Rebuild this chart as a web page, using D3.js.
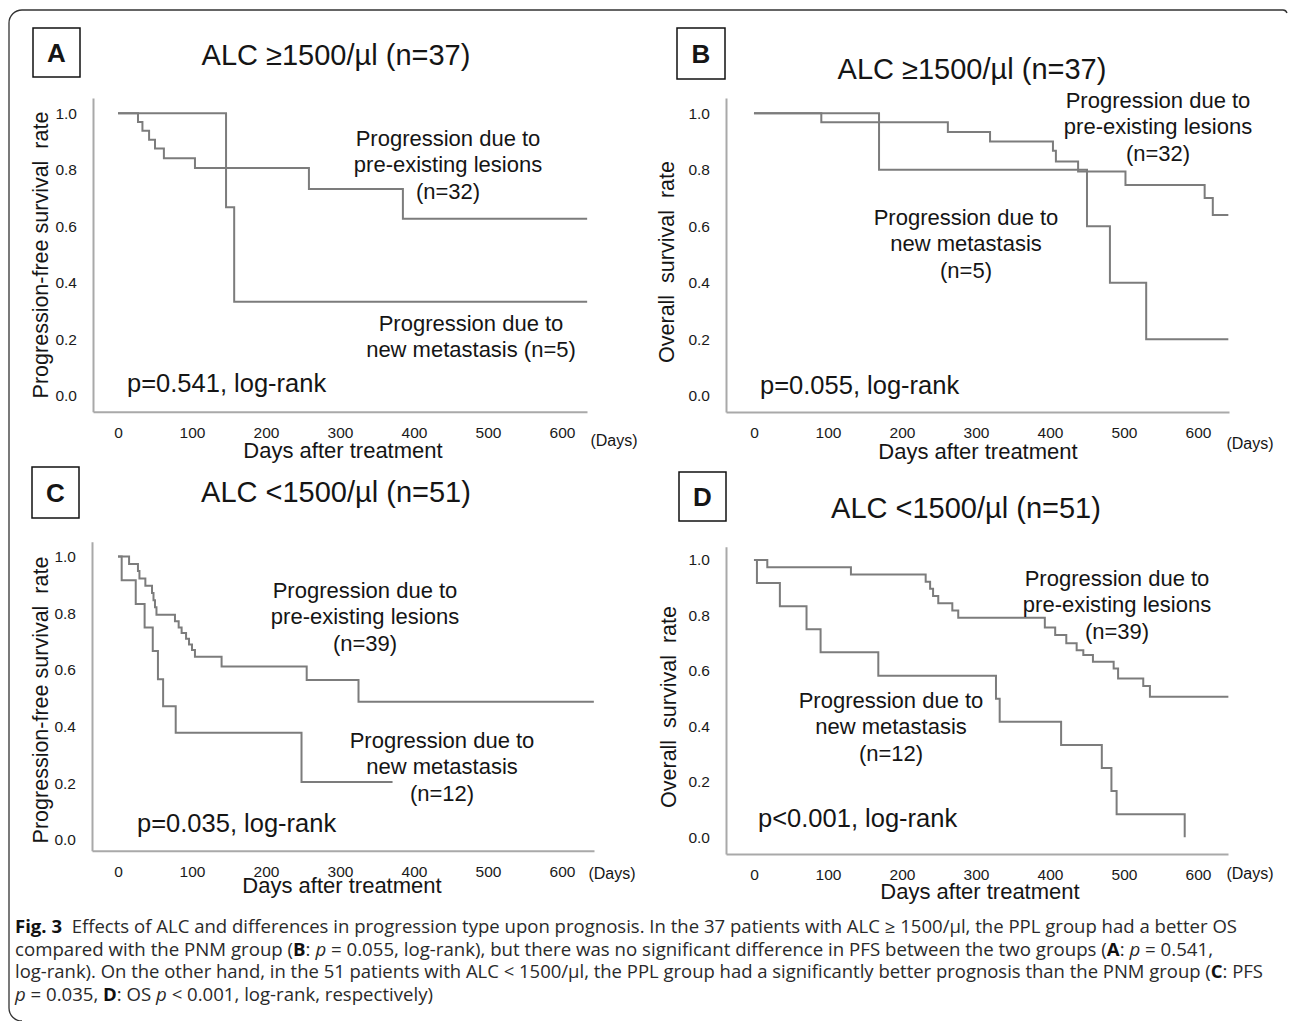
<!DOCTYPE html>
<html>
<head>
<meta charset="utf-8">
<script src="https://cdn.jsdelivr.net/npm/d3@7"></script>
<style>
  body { margin: 0; background: #fff; }
  svg text { font-family: "Liberation Sans", Arial, sans-serif; fill: #151515; }
  .axis path { stroke: #a9a9a9; stroke-width: 2; }
  .axis text { font-size: 15.5px; fill: #1a1a1a; font-family: "Liberation Sans", Arial, sans-serif; }
  .km { fill: none; stroke: #7c7c7c; stroke-width: 2; }
  .caption text { font-family: "Open Sans", sans-serif; font-size: 17.5px; fill: #2a2a2a; }
</style>
</head>
<body>
<svg id="fig" width="1290" height="1021"></svg>
<script>
// Tick values shared by all four panels
const dayTicks = [0, 100, 200, 300, 400, 500, 600];
const rateTicks = [0, 0.2, 0.4, 0.6, 0.8, 1.0];

// Kaplan-Meier steps: [day, survival]
// A: PFS, ALC >= 1500
const pfsHighPPL = [[0, 1], [27, 0.969], [33, 0.938], [42, 0.906], [50, 0.875], [62, 0.841],
  [104, 0.806], [258, 0.732], [385, 0.627], [634, 0.627]];
const pfsHighPNM = [[0, 1], [146, 0.667], [157, 0.333], [634, 0.333]];
// B: OS, ALC >= 1500
const osHighPPL = [[0, 1], [91, 0.968], [262, 0.934], [319, 0.900], [404, 0.867], [408, 0.829],
  [438, 0.794], [502, 0.746], [609, 0.70], [620, 0.64], [641, 0.64]];
const osHighPNM = [[0, 1], [169, 0.80], [450, 0.60], [481, 0.40], [530, 0.20], [641, 0.20]];
// C: PFS, ALC < 1500
const pfsLowPPL = [[0, 1], [15, 0.974], [27, 0.949], [29, 0.923], [37, 0.897], [46, 0.872],
  [48, 0.846], [50, 0.821], [52, 0.795], [77, 0.772], [82, 0.75], [86, 0.73], [92, 0.71],
  [96, 0.69], [100, 0.67], [104, 0.647], [140, 0.612], [255, 0.565], [325, 0.488], [643, 0.488]];
const pfsLowPNM = [[0, 1], [5, 0.917], [24, 0.833], [36, 0.75], [47, 0.667], [54, 0.567],
  [61, 0.472], [78, 0.378], [248, 0.205], [371, 0.205]];
// D: OS, ALC < 1500
const osLowPPL = [[0, 1], [18, 0.974], [131, 0.948], [232, 0.922], [238, 0.896], [242, 0.87],
  [249, 0.844], [268, 0.818], [276, 0.792], [393, 0.757], [407, 0.73], [422, 0.70], [436, 0.675],
  [445, 0.657], [458, 0.633], [486, 0.609], [492, 0.573], [526, 0.546], [535, 0.507], [641, 0.507]];
const osLowPNM = [[0, 1], [4, 0.917], [35, 0.833], [71, 0.75], [90, 0.667], [168, 0.583],
  [327, 0.5], [332, 0.417], [415, 0.333], [470, 0.25], [483, 0.167], [490, 0.083], [582, 0]];

const pValues = ['p=0.541, log-rank', 'p=0.055, log-rank', 'p=0.035, log-rank', 'p<0.001, log-rank'];

const panels = [
  {
    letter: 'A', box: [33, 28, 47, 49], title: 'ALC \u22651500/\u00b5l (n=37)', titleXY: [336, 55],
    xRange: [93, 587], xDom: [-33.8, 633.8], yRange: [411.7, 98], yDom: [-0.0567, 1.0542],
    yTitle: 'Progression-free survival  rate', yTitleXY: [41, 255],
    xTitleXY: [343, 450], daysXY: [614, 440],
    curves: [pfsHighPPL, pfsHighPNM], p: pValues[0], pXY: [127, 383],
    notes: [
      { lines: ['Progression due to', 'pre-existing lesions', '(n=32)'], x: 448, y: 138 },
      { lines: ['Progression due to', 'new metastasis (n=5)'], x: 471, y: 323 }
    ]
  },
  {
    letter: 'B', box: [677, 28, 48, 51], title: 'ALC \u22651500/\u00b5l (n=37)', titleXY: [972, 69],
    xRange: [726, 1229], xDom: [-37.8, 641.9], yRange: [412, 98], yDom: [-0.0577, 1.0542],
    yTitle: 'Overall  survival  rate', yTitleXY: [667, 262],
    xTitleXY: [978, 451], daysXY: [1250, 443],
    curves: [osHighPPL, osHighPNM], p: pValues[1], pXY: [760, 385],
    notes: [
      { lines: ['Progression due to', 'pre-existing lesions', '(n=32)'], x: 1158, y: 100 },
      { lines: ['Progression due to', 'new metastasis', '(n=5)'], x: 966, y: 217 }
    ]
  },
  {
    letter: 'C', box: [32, 467, 47, 51], title: 'ALC <1500/\u00b5l (n=51)', titleXY: [336, 492],
    xRange: [92, 594], xDom: [-35.1, 643.2], yRange: [850.7, 541.7], yDom: [-0.0378, 1.0526],
    yTitle: 'Progression-free survival  rate', yTitleXY: [41, 700],
    xTitleXY: [342, 885], daysXY: [612, 873],
    curves: [pfsLowPPL, pfsLowPNM], p: pValues[2], pXY: [137, 823],
    notes: [
      { lines: ['Progression due to', 'pre-existing lesions', '(n=39)'], x: 365, y: 590 },
      { lines: ['Progression due to', 'new metastasis', '(n=12)'], x: 442, y: 740 }
    ]
  },
  {
    letter: 'D', box: [679, 472, 47, 49], title: 'ALC <1500/\u00b5l (n=51)', titleXY: [966, 508],
    xRange: [726, 1228], xDom: [-37.8, 640.5], yRange: [854, 546.7], yDom: [-0.0602, 1.048],
    yTitle: 'Overall  survival  rate', yTitleXY: [669, 707],
    xTitleXY: [980, 891], daysXY: [1250, 873],
    curves: [osLowPPL, osLowPNM], p: pValues[3], pXY: [758, 818],
    notes: [
      { lines: ['Progression due to', 'pre-existing lesions', '(n=39)'], x: 1117, y: 578 },
      { lines: ['Progression due to', 'new metastasis', '(n=12)'], x: 891, y: 700 }
    ]
  }
];

const svg = d3.select('#fig');

// Outer frame of the figure (rounded at the left corners)
svg.append('path')
  .attr('d', 'M1287,13 Q1286,10 1283,10 H22 A13,13 0 0 0 9,23 V1008 A13,13 0 0 0 22,1021')
  .attr('fill', 'none')
  .attr('stroke', '#333')
  .attr('stroke-width', 1.3);

function drawPanel(p) {
  const g = svg.append('g');
  const x = d3.scaleLinear().domain(p.xDom).range(p.xRange);
  const y = d3.scaleLinear().domain(p.yDom).range(p.yRange);

  // Letter box
  g.append('rect')
    .attr('x', p.box[0]).attr('y', p.box[1])
    .attr('width', p.box[2]).attr('height', p.box[3])
    .attr('fill', 'none').attr('stroke', '#111').attr('stroke-width', 1.5);
  g.append('text')
    .attr('x', p.box[0] + p.box[2] / 2).attr('y', p.box[1] + p.box[3] / 2)
    .attr('text-anchor', 'middle').attr('dominant-baseline', 'central')
    .style('font-size', '26px').style('font-weight', 'bold')
    .text(p.letter);

  g.append('text')
    .attr('x', p.titleXY[0]).attr('y', p.titleXY[1])
    .attr('text-anchor', 'middle').attr('dominant-baseline', 'central')
    .style('font-size', '29px')
    .text(p.title);

  // Axes
  g.append('g')
    .attr('class', 'axis')
    .attr('transform', `translate(0,${p.yRange[0]})`)
    .call(d3.axisBottom(x).tickValues(dayTicks).tickSize(0).tickSizeOuter(0).tickPadding(15).tickFormat(d3.format('d')));

  g.append('g')
    .attr('class', 'axis')
    .attr('transform', `translate(${p.xRange[0]},0)`)
    .call(d3.axisLeft(y).tickValues(rateTicks).tickSize(0).tickSizeOuter(0).tickPadding(16).tickFormat(d3.format('.1f')));

  g.append('text')
    .attr('x', p.xTitleXY[0]).attr('y', p.xTitleXY[1])
    .attr('text-anchor', 'middle').attr('dominant-baseline', 'central')
    .style('font-size', '22px')
    .text('Days after treatment');

  g.append('text')
    .attr('x', p.daysXY[0]).attr('y', p.daysXY[1])
    .attr('text-anchor', 'middle').attr('dominant-baseline', 'central')
    .style('font-size', '16px')
    .text('(Days)');

  g.append('text')
    .attr('transform', `translate(${p.yTitleXY[0]},${p.yTitleXY[1]}) rotate(-90)`)
    .attr('text-anchor', 'middle').attr('dominant-baseline', 'central')
    .style('font-size', '21.5px').style('white-space', 'pre')
    .text(p.yTitle);

  // Survival curves
  const line = d3.line()
    .x(d => x(d[0]))
    .y(d => y(d[1]))
    .curve(d3.curveStepAfter);

  for (const c of p.curves) {
    g.append('path').datum(c).attr('class', 'km').attr('d', line);
  }

  // Group notes
  for (const n of p.notes) {
    n.lines.forEach((t, i) => {
      g.append('text')
        .attr('x', n.x).attr('y', n.y + i * 26.5)
        .attr('text-anchor', 'middle').attr('dominant-baseline', 'central')
        .style('font-size', '22px')
        .text(t);
    });
  }

  g.append('text')
    .attr('x', p.pXY[0]).attr('y', p.pXY[1])
    .attr('dominant-baseline', 'central')
    .style('font-size', '25.5px')
    .text(p.p);
}

panels.forEach(drawPanel);

// Caption
const captionLines = [
  [['b', 'Fig. 3'], ['', '  Effects of ALC and differences in progression type upon prognosis. In the 37 patients with ALC \u2265 1500/\u00b5l, the PPL group had a better OS']],
  [['', 'compared with the PNM group ('], ['b', 'B'], ['', ': '], ['i', 'p'], ['', ' = 0.055, log-rank), but there was no significant difference in PFS between the two groups ('], ['b', 'A'], ['', ': '], ['i', 'p'], ['', ' = 0.541,']],
  [['', 'log-rank). On the other hand, in the 51 patients with ALC < 1500/\u00b5l, the PPL group had a significantly better prognosis than the PNM group ('], ['b', 'C'], ['', ': PFS']],
  [['i', 'p'], ['', ' = 0.035, '], ['b', 'D'], ['', ': OS '], ['i', 'p'], ['', ' < 0.001, log-rank, respectively)']]
];
const captionWidths = [1222, 1198, 1248, 418];
const captionBaselines = [933, 955.5, 978, 1001];

const cap = svg.append('g').attr('class', 'caption');
captionLines.forEach((parts, i) => {
  const t = cap.append('text')
    .attr('x', 15).attr('y', captionBaselines[i])
    .attr('textLength', captionWidths[i])
    .attr('lengthAdjust', 'spacingAndGlyphs')
    .style('white-space', 'pre');
  for (const [kind, s] of parts) {
    const ts = t.append('tspan').text(s);
    if (kind === 'b') ts.style('font-weight', 'bold').style('fill', '#111');
    if (kind === 'i') ts.style('font-style', 'italic');
  }
});
</script>
</body>
</html>
